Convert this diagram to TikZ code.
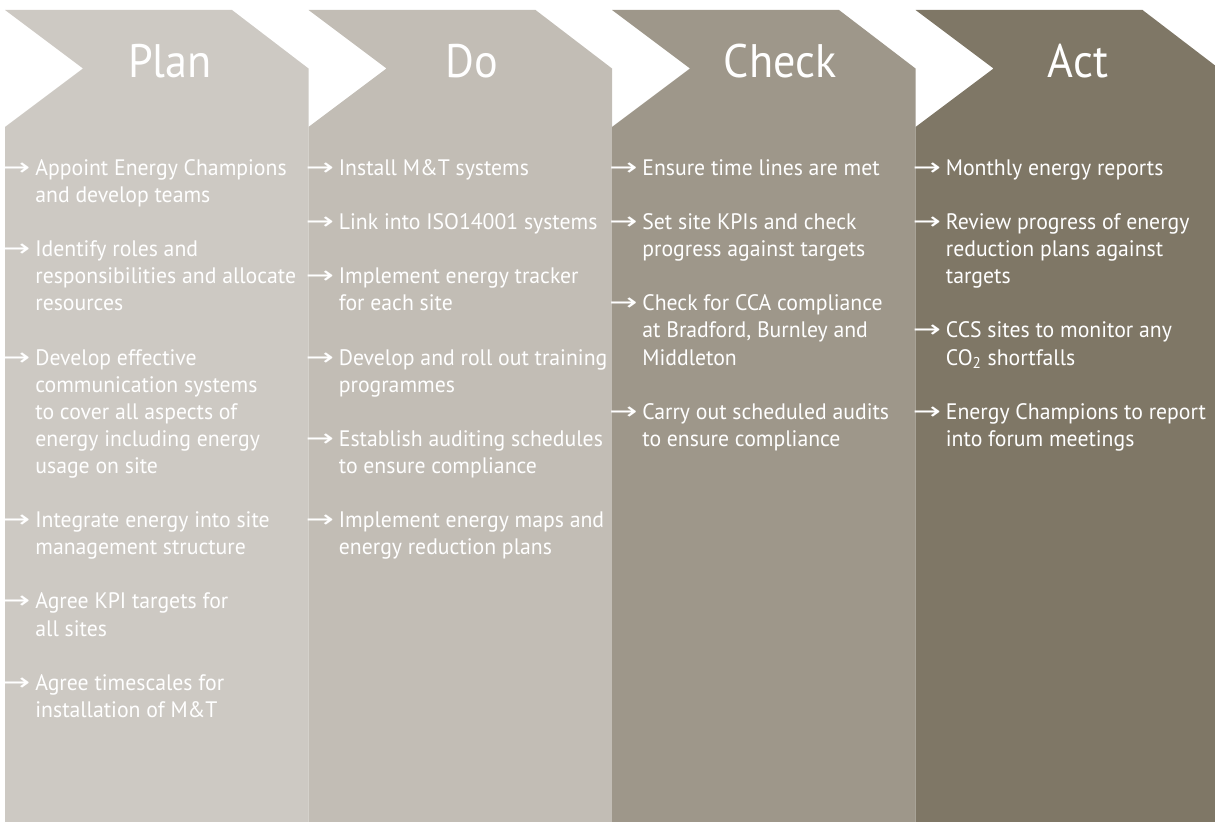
\documentclass[tikz,border=0pt]{standalone}
\usepackage{fontspec}
\setmainfont{PT Sans}[FakeStretch=0.97]
\newfontfamily\titlefont{PT Sans}[FakeStretch=0.94]
\newfontfamily\arrowfont{DejaVu Sans}[FakeStretch=1.4]
\usetikzlibrary{positioning}
\definecolor{plangrey}{HTML}{CDC9C3}
\definecolor{dogrey}{HTML}{C2BDB5}
\definecolor{checkgrey}{HTML}{9E978A}
\definecolor{actgrey}{HTML}{7F7766}
% arrow hung in the margin before each point
\newcommand{\itemarrow}{\llap{{\arrowfont\fontsize{12}{12}\selectfont\char"2192}\hspace{2.5pt}}}
% fixes the height of the first line, so north = baseline + 10pt
\newcommand{\firstline}{\rule{0pt}{10pt}}
\tikzset{
  phasetitle/.style={text=white, font=\titlefont\fontsize{23.5}{28}\selectfont,
    anchor=base, inner sep=0pt},
  phasebody/.style={text=white, font=\fontsize{11.2}{13.55}\selectfont,
    align=left, anchor=north west, inner sep=0pt},
}

\begin{document}
\begin{tikzpicture}[x=0.5pt, y=-0.5pt]
    \useasboundingbox (0,0) rectangle (1215,822);
    % chevron columns
    \fill[plangrey]  (5,10) -- (232,10) -- (308.5,68.5) -- (308.5,822) -- (5,822) -- (5,127) -- (83,68.5) -- cycle;
    \fill[dogrey]    (308.5,10) -- (535.5,10) -- (612,68.5) -- (612,822) -- (308.5,822) -- (308.5,127) -- (386.5,68.5) -- cycle;
    \fill[checkgrey] (612,10) -- (839,10) -- (915.5,68.5) -- (915.5,822) -- (612,822) -- (612,127) -- (690,68.5) -- cycle;
    \fill[actgrey]   (915.5,10) -- (1142.5,10) -- (1219,68.5) -- (1219,822) -- (915.5,822) -- (915.5,127) -- (993.5,68.5) -- cycle;
    % headings
    \node[phasetitle] (plan)  at (170,78)    {Plan};
    \node[phasetitle] (do)    at (472,78)    {Do};
    \node[phasetitle] (check) at (780,78)    {Check};
    \node[phasetitle] (act)   at (1078,78)   {Act};
    % points under each heading
    \node[phasebody] (planlist) at (35,155) {\firstline\itemarrow Appoint Energy Champions\\ and develop teams\\[13.55pt]
        \itemarrow Identify roles and\\ responsibilities and allocate\\ resources\\[13.55pt]
        \itemarrow Develop effective\\ communication systems\\ to cover all aspects of\\ energy including energy\\ usage on site\\[13.55pt]
        \itemarrow Integrate energy into site\\ management structure\\[13.55pt]
        \itemarrow Agree KPI targets for\\ all sites\\[13.55pt]
        \itemarrow Agree timescales for\\ installation of M\&T};
    \node[phasebody] (dolist) at (338.5,155) {\firstline\itemarrow Install M\&T systems\\[13.55pt]
        \itemarrow Link into ISO14001 systems\\[13.55pt]
        \itemarrow Implement energy tracker\\ for each site\\[13.55pt]
        \itemarrow Develop and roll out training\\ programmes\\[13.55pt]
        \itemarrow Establish auditing schedules\\ to ensure compliance\\[13.55pt]
        \itemarrow Implement energy maps and\\ energy reduction plans};
    \node[phasebody] (checklist) at (642,155) {\firstline\itemarrow Ensure time lines are met\\[13.55pt]
        \itemarrow Set site KPIs and check\\ progress against targets\\[13.55pt]
        \itemarrow Check for CCA compliance\\ at Bradford, Burnley and\\ Middleton\\[13.55pt]
        \itemarrow Carry out scheduled audits\\ to ensure compliance};
    \node[phasebody] (actlist) at (945.5,155) {\firstline\itemarrow Monthly energy reports\\[13.55pt]
        \itemarrow Review progress of energy\\ reduction plans against\\ targets\\[13.55pt]
        \itemarrow CCS sites to monitor any\\ CO\textsubscript{2} shortfalls\\[13.55pt]
        \itemarrow Energy Champions to report\\ into forum meetings};
\end{tikzpicture}
\end{document}
